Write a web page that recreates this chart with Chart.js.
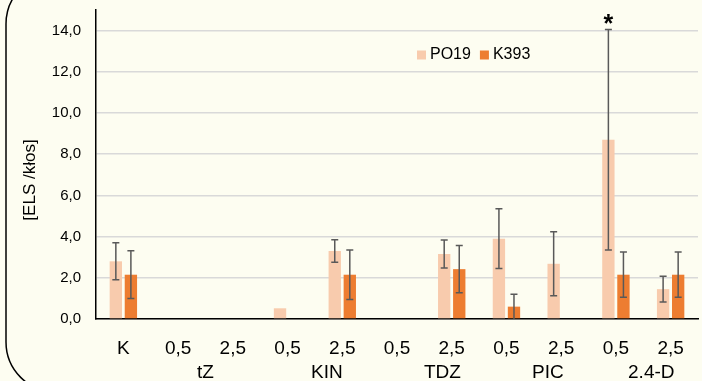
<!DOCTYPE html>
<html>
<head>
<meta charset="utf-8">
<script src="https://cdn.jsdelivr.net/npm/chart.js@4"></script>
<style>
    html, body { margin: 0; padding: 0; background: #fdfdf1; }
    #wrap { width: 702px; height: 381px; position: relative; }
</style>
</head>
<body>
<div id="wrap"><canvas id="chart" width="702" height="381"></canvas></div>
<script>
// categories (first line) and group labels (second line)
const doses = ['K', '0,5', '2,5', '0,5', '2,5', '0,5', '2,5', '0,5', '2,5', '0,5', '2,5']
const groups = ['tZ', 'KIN', 'TDZ', 'PIC', '2.4-D']
const groupNudge = [0, 12, 18, 14, 8]

// series values and their errors
const po19 = [2.8, 0, 0, 0.52, 3.3, 0, 3.15, 3.9, 2.68, 8.7, 1.45]
const po19Err = [0.9, 0, 0, 0, 0.55, 0, 0.68, 1.45, 1.55, 5.35, 0.62]
const k393 = [2.15, 0, 0, 0, 2.15, 0, 2.42, 0.6, 0, 2.15, 2.15]
const k393Err = [1.16, 0, 0, 0, 1.2, 0, 1.15, 0.6, 0, 1.1, 1.1]

// y axis
const yMax = 15
const yStep = 2
const yTitle = '[ELS /kłos]'
const starAt = { dataset: 0, index: 9 }

const errors = [po19Err, k393Err]

// rounded frame round the whole chart
const framePlugin = {
    id: 'frame',
    beforeDraw(chart) {
        const ctx = chart.ctx
        ctx.save()
        ctx.fillStyle = '#fdfdf1'
        ctx.fillRect(0, 0, chart.width, chart.height)
        ctx.strokeStyle = '#000'
        ctx.lineWidth = 1.5
        ctx.beginPath()
        ctx.roundRect(6, -26, chart.width + 60, chart.height + 37, 50)
        ctx.stroke()
        ctx.restore()
    }
}

// error bars, asterisk, legend, y title and group labels
const extrasPlugin = {
    id: 'extras',
    afterDatasetsDraw(chart) {
        const ctx = chart.ctx
        const y = chart.scales.y
        ctx.save()
        ctx.strokeStyle = '#595959'
        ctx.lineWidth = 1.5
        chart.data.datasets.forEach((ds, d) => {
            const meta = chart.getDatasetMeta(d)
            meta.data.forEach((bar, i) => {
                const e = errors[d][i]
                if (!e) return
                const v = ds.data[i]
                const top = y.getPixelForValue(v + e)
                const bottom = y.getPixelForValue(Math.max(0, v - e))
                ctx.beginPath()
                ctx.moveTo(bar.x, top)
                ctx.lineTo(bar.x, bottom)
                ctx.moveTo(bar.x - 3.5, top)
                ctx.lineTo(bar.x + 3.5, top)
                if (v - e > 0) {
                    ctx.moveTo(bar.x - 3.5, bottom)
                    ctx.lineTo(bar.x + 3.5, bottom)
                }
                ctx.stroke()
            })
        })

        // significance mark
        const starBar = chart.getDatasetMeta(starAt.dataset).data[starAt.index]
        const sv = chart.data.datasets[starAt.dataset].data[starAt.index] + errors[starAt.dataset][starAt.index]
        ctx.fillStyle = '#000'
        ctx.font = 'bold 25px "Liberation Sans"'
        ctx.textAlign = 'center'
        ctx.textBaseline = 'alphabetic'
        ctx.fillText('*', starBar.x, y.getPixelForValue(sv) + 2)

        // legend inside the plot
        const area = chart.chartArea
        let lx = area.left + 321
        const ly = area.top + 45
        ctx.font = '16px "Liberation Sans Narrow", "Liberation Sans", sans-serif'
        ctx.textAlign = 'left'
        ctx.textBaseline = 'middle'
        chart.data.datasets.forEach(ds => {
            ctx.fillStyle = ds.backgroundColor
            ctx.fillRect(lx, ly - 4.5, 9, 9)
            ctx.fillStyle = '#000'
            ctx.fillText(ds.label, lx + 13, ly)
            lx += 13 + ctx.measureText(ds.label).width + 9
        })

        // y axis title
        ctx.save()
        ctx.translate(30, 180)
        ctx.rotate(-Math.PI / 2)
        ctx.textAlign = 'center'
        ctx.font = '17px "Liberation Sans", sans-serif'
        ctx.fillText(yTitle, 0, 0)
        ctx.restore()

        // second row of category labels
        const x = chart.scales.x
        ctx.font = '19px "Liberation Sans", sans-serif'
        ctx.textAlign = 'center'
        groups.forEach((g, k) => {
            const a = x.getPixelForValue(1 + k * 2)
            const b = x.getPixelForValue(2 + k * 2)
            ctx.fillText(g, (a + b) / 2 + groupNudge[k], 373)
        })
        ctx.restore()
    }
}

new Chart(document.getElementById('chart'), {
    type: 'bar',
    data: {
        labels: doses,
        datasets: [
            {
                label: 'PO19',
                data: po19,
                backgroundColor: '#f8cbad',
                barPercentage: 0.82,
                categoryPercentage: 0.55
            },
            {
                label: 'K393',
                data: k393,
                backgroundColor: '#ed7d31',
                barPercentage: 0.82,
                categoryPercentage: 0.55
            }
        ]
    },
    options: {
        responsive: false,
        animation: false,
        layout: { padding: { left: 0, top: 10, right: 4, bottom: 0 } },
        plugins: {
            legend: { display: false },
            tooltip: { enabled: false }
        },
        scales: {
            x: {
                grid: { display: false, drawTicks: false },
                border: { display: true, color: '#000', width: 1.5 },
                ticks: {
                    color: '#000',
                    padding: 18,
                    font: { family: '"Liberation Sans", sans-serif', size: 19 }
                },
                afterFit: s => {
                    s.height = 62
                    s.paddingLeft = 0
                    s.paddingRight = 0
                }
            },
            y: {
                min: 0,
                max: yMax,
                grid: { color: '#d9d9d9', lineWidth: 1.5, drawTicks: false },
                border: { display: true, color: '#000', width: 1.5 },
                ticks: {
                    stepSize: yStep,
                    color: '#000',
                    padding: 15,
                    font: { family: '"Liberation Sans Narrow", "Liberation Sans", sans-serif', size: 15 },
                    callback: v => v.toFixed(1).replace('.', ',')
                },
                afterBuildTicks: s => { s.ticks = s.ticks.filter(t => t.value <= 14) },
                afterFit: s => {
                    s.width = 96
                    s.paddingTop = 0
                    s.paddingBottom = 0
                }
            }
        }
    },
    plugins: [framePlugin, extrasPlugin]
})
</script>
</body>
</html>
